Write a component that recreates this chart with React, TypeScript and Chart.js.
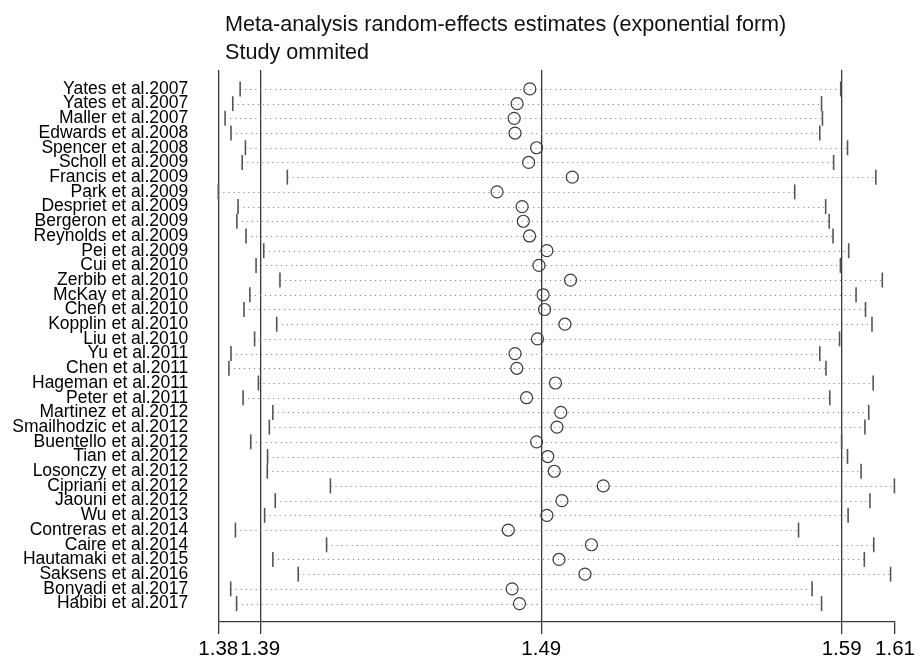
import React, { useEffect, useRef } from "react";
import { Chart, registerables } from "chart.js";

Chart.register(...registerables);

const titleLines = [
  "Meta-analysis random-effects estimates (exponential form)",
  "Study ommited",
];

const studies = [
  "Yates et al.2007",
  "Yates et al.2007",
  "Maller et al.2007",
  "Edwards et al.2008",
  "Spencer et al.2008",
  "Scholl et al.2009",
  "Francis et al.2009",
  "Park et al.2009",
  "Despriet et al.2009",
  "Bergeron et al.2009",
  "Reynolds et al.2009",
  "Pei et al.2009",
  "Cui et al.2010",
  "Zerbib et al.2010",
  "McKay et al.2010",
  "Chen et al.2010",
  "Kopplin et al.2010",
  "Liu et al.2010",
  "Yu et al.2011",
  "Chen et al.2011",
  "Hageman et al.2011",
  "Peter et al.2011",
  "Martinez et al.2012",
  "Smailhodzic et al.2012",
  "Buentello et al.2012",
  "Tian et al.2012",
  "Losonczy et al.2012",
  "Cipriani et al.2012",
  "Jaouni et al.2012",
  "Wu et al.2013",
  "Contreras et al.2014",
  "Caire et al.2014",
  "Hautamaki et al.2015",
  "Saksens et al.2016",
  "Bonyadi et al.2017",
  "Habibi et al.2017",
];

const lowerCI = [
  1.3879, 1.3854, 1.3828, 1.3848, 1.3897, 1.3886, 1.4039, 1.3805, 1.3872,
  1.3868, 1.3899, 1.3959, 1.3933, 1.4014, 1.3912, 1.3892, 1.4003, 1.3928,
  1.3848, 1.3841, 1.3941, 1.3889, 1.399, 1.3978, 1.3915, 1.3972, 1.3971,
  1.4185, 1.3998, 1.3962, 1.3863, 1.4172, 1.399, 1.4076, 1.3847, 1.3867,
];

const estimates = [
  1.4861, 1.4818, 1.4808, 1.4811, 1.4884, 1.4857, 1.5005, 1.475, 1.4835,
  1.4839, 1.486, 1.4919, 1.4892, 1.4999, 1.4906, 1.4911, 1.498, 1.4887,
  1.4811, 1.4817, 1.4948, 1.485, 1.4966, 1.4953, 1.4884, 1.4922, 1.4944,
  1.511, 1.497, 1.4919, 1.4788, 1.507, 1.496, 1.5048, 1.4801, 1.4826,
];

const upperCI = [
  1.5915, 1.585, 1.5853, 1.5844, 1.5938, 1.5891, 1.6034, 1.5759, 1.5864,
  1.5876, 1.5889, 1.5942, 1.5914, 1.6056, 1.5967, 1.5999, 1.6021, 1.5911,
  1.5844, 1.5865, 1.6025, 1.5878, 1.601, 1.5997, 1.5918, 1.5938, 1.5984,
  1.6097, 1.6014, 1.594, 1.5772, 1.6027, 1.5995, 1.6084, 1.5818, 1.585,
];

const axisTickValues = [1.3805, 1.3947, 1.49, 1.5918, 1.6099];
const axisTickLabels = ["1.38", "1.39", "1.49", "1.59", "1.61"];

const FONT = "'Liberation Sans', Arial, Helvetica, sans-serif";

const ciLinesPlugin = {
  id: "ciLines",
  beforeDatasetsDraw(chart: any) {
    const { ctx } = chart;
    const x = chart.scales.x;
    const y = chart.scales.y;
    ctx.save();
    ctx.strokeStyle = "#8a8a8a";
    ctx.lineWidth = 1;
    ctx.setLineDash([1.2, 3.8]);
    studies.forEach((_, i) => {
      const py = Math.round(y.getPixelForValue(i)) + 0.5;
      ctx.beginPath();
      ctx.moveTo(x.getPixelForValue(lowerCI[i]), py);
      ctx.lineTo(x.getPixelForValue(upperCI[i]), py);
      ctx.stroke();
    });
    ctx.restore();
  },
};

const titlePlugin = {
  id: "titleText",
  afterDraw(chart: any) {
    const { ctx } = chart;
    ctx.save();
    ctx.fillStyle = "#111";
    ctx.font = `21.6px ${FONT}`;
    ctx.textAlign = "left";
    ctx.textBaseline = "alphabetic";
    ctx.fillText(titleLines[0], 225, 30.5);
    ctx.fillText(titleLines[1], 225, 58.5);
    ctx.restore();
  },
};

export default function App() {
  const canvasRef = useRef<HTMLCanvasElement | null>(null);

  useEffect(() => {
    if (!canvasRef.current) return;
    const chart = new Chart(canvasRef.current, {
      type: "scatter",
      data: {
        datasets: [
          {
            label: "CI limits",
            data: [
              ...lowerCI.map((v, i) => ({ x: v, y: i })),
              ...upperCI.map((v, i) => ({ x: v, y: i })),
            ],
            pointStyle: "line",
            rotation: 90,
            pointRadius: 7.5,
            borderColor: "#555",
            borderWidth: 1.6,
            clip: false,
          } as any,
          {
            label: "Estimate",
            data: estimates.map((v, i) => ({ x: v, y: i })),
            pointStyle: "circle",
            pointRadius: 6,
            borderColor: "#3c3c3c",
            backgroundColor: "rgba(0,0,0,0)",
            borderWidth: 1.2,
            clip: false,
          } as any,
        ],
      },
      options: {
        responsive: false,
        animation: false,
        events: [],
        layout: { padding: { top: 70, right: 26, bottom: 0, left: 0 } },
        plugins: {
          legend: { display: false },
          tooltip: { enabled: false },
          title: { display: false },
        },
        scales: {
          x: {
            type: "linear",
            min: axisTickValues[0],
            max: axisTickValues[axisTickValues.length - 1],
            afterBuildTicks: (scale: any) => {
              scale.ticks = axisTickValues.map((v) => ({ value: v }));
            },
            afterFit: (scale: any) => {
              scale.height = 38.7;
            },
            ticks: {
              autoSkip: false,
              maxRotation: 0,
              padding: 3,
              color: "#000",
              font: { family: FONT, size: 20.5 },
              callback: (_v: any, idx: number) => axisTickLabels[idx],
            },
            grid: {
              color: (c: any) =>
                c.index === axisTickValues.length - 1 ? "rgba(0,0,0,0)" : "#3a3a3a",
              tickColor: "#3a3a3a",
              lineWidth: 1.3,
              tickLength: 12.5,
              drawTicks: true,
            },
            border: { display: true, color: "#3a3a3a", width: 1.3 },
          },
          y: {
            type: "linear",
            reverse: true,
            min: -1.288,
            max: 36.22,
            afterBuildTicks: (scale: any) => {
              scale.ticks = studies.map((_, i) => ({ value: i }));
            },
            afterFit: (scale: any) => {
              scale.width = 218.3;
            },
            ticks: {
              autoSkip: false,
              padding: 30,
              color: "#000",
              font: { family: FONT, size: 17.5 },
              callback: (v: any) => studies[v as number],
            },
            grid: { display: false, drawTicks: false },
            border: { display: false },
          },
        },
      },
      plugins: [ciLinesPlugin, titlePlugin],
    } as any);
    return () => chart.destroy();
  }, []);

  return (
    <div
      style={{
        position: "fixed",
        left: 0,
        top: 0,
        width: 921,
        height: 662,
        background: "#fff",
      }}
    >
      <canvas
        ref={canvasRef}
        width={921}
        height={662}
        style={{ width: 921, height: 662, display: "block" }}
      />
    </div>
  );
}
